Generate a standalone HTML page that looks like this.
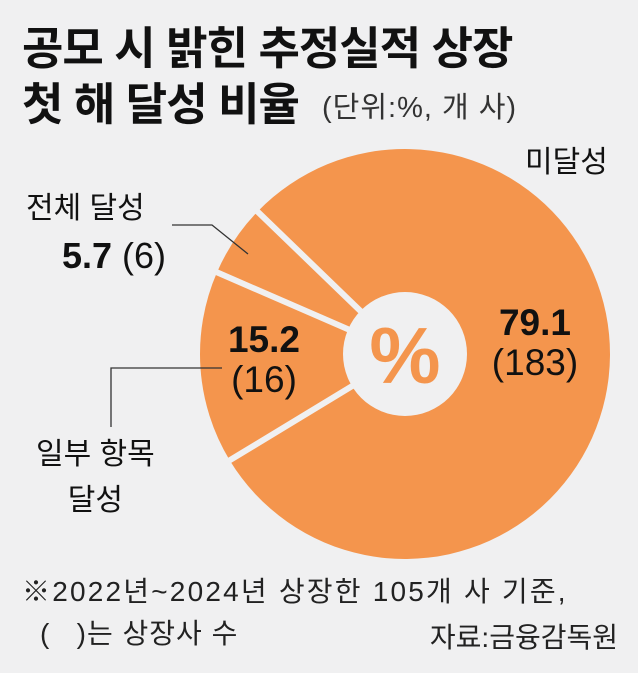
<!DOCTYPE html>
<html><head><meta charset="utf-8"><style>
body{margin:0;background:#f0f0f1;}
#c{position:relative;width:638px;height:673px;background:#f0f0f1;font-family:"Liberation Sans","Noto Sans CJK KR",sans-serif;color:#111;overflow:hidden}
.t{position:absolute;white-space:nowrap}
</style></head><body>
<div id="c">
<div class="t" style="left:22px;top:12px;font-size:45px;font-weight:bold;letter-spacing:-1px">공모 시 밝힌 추정실적 상장</div>
<div class="t" style="left:22px;top:68px;font-size:45px;font-weight:bold;letter-spacing:-1px">첫 해 달성 비율</div>
<div class="t" style="left:322px;top:84px;font-size:29px;color:#333;letter-spacing:1px">(단위:%, 개 사)</div>
<svg id="pie" width="638" height="673" style="position:absolute;left:0;top:0"></svg>
<div class="t" style="left:525px;top:137px;font-size:30px">미달성</div>
<div class="t" style="left:490px;top:303px;font-size:37px;font-weight:bold;text-align:center;width:90px;line-height:40px">79.1<br><span style="font-weight:normal">(183)</span></div>
<div class="t" style="left:26px;top:183px;font-size:30px">전체 달성</div>
<div class="t" style="left:62px;top:235px;font-size:36px"><b>5.7</b> (6)</div>
<div class="t" style="left:224px;top:320px;font-size:37px;font-weight:bold;text-align:center;width:80px;line-height:40px">15.2<br><span style="font-weight:normal">(16)</span></div>
<div class="t" style="left:36px;top:432px;font-size:30px;text-align:center;line-height:46px">일부 항목<br>달성</div>
<div class="t" style="left:22px;top:570px;font-size:28px;color:#222;letter-spacing:2.2px">※2022년~2024년 상장한 105개 사 기준,</div>
<div class="t" style="left:40px;top:612px;font-size:28px;color:#222;letter-spacing:1px">(&nbsp;&nbsp;&nbsp;)는 상장사 수</div>
<div class="t" style="right:20px;top:616px;font-size:28px;color:#222;letter-spacing:0px">자료:금융감독원</div>
</div>
<script>
const categories=["미달성","일부 항목 달성","전체 달성"];
const values=[79.1,15.2,5.7];
const startDeg=314;
const cx=405,cy=354,R=205,r0=62;
const svg=document.getElementById('pie');
const NS='http://www.w3.org/2000/svg';
function pt(deg,rad){const a=deg*Math.PI/180;return [cx+rad*Math.sin(a),cy-rad*Math.cos(a)];}
const total=values.reduce((a,b)=>a+b,0);
let ang=startDeg;
const bounds=[];
values.forEach((v,i)=>{
  const sweep=v/total*360;
  const p1=pt(ang,R),p2=pt(ang+sweep,R);
  const path=document.createElementNS(NS,'path');
  path.setAttribute('d',`M${cx},${cy} L${p1[0]},${p1[1]} A${R},${R} 0 ${sweep>180?1:0} 1 ${p2[0]},${p2[1]} Z`);
  path.setAttribute('fill','#f4954d');
  
  
  svg.appendChild(path);
  bounds.push(ang);
  ang+=sweep;
});
bounds.forEach(a=>{
  const p=pt(a,R+2);
  const l=document.createElementNS(NS,'line');
  l.setAttribute('x1',cx);l.setAttribute('y1',cy);l.setAttribute('x2',p[0]);l.setAttribute('y2',p[1]);
  l.setAttribute('stroke','#f0f0f1');l.setAttribute('stroke-width','6');
  
  
  svg.appendChild(l);
});
const hole=document.createElementNS(NS,'circle');
hole.setAttribute('cx',cx);hole.setAttribute('cy',cy);hole.setAttribute('r',r0);hole.setAttribute('fill','#f0f0f1');


svg.appendChild(hole);
const pc=document.createElementNS(NS,'text');
pc.setAttribute('x',cx);pc.setAttribute('y',cy+29);pc.setAttribute('text-anchor','middle');
pc.setAttribute('font-size','80');pc.setAttribute('font-weight','bold');pc.setAttribute('fill','#f4954d');
pc.setAttribute('font-family','Liberation Sans, sans-serif');
pc.textContent='%';


svg.appendChild(pc);
[[ "172,225 212,225 248,254","leader-full"],["222,368 111,368 111,427","leader-partial"]].forEach(([p,n])=>{
  const pl=document.createElementNS(NS,'polyline');
  pl.setAttribute('points',p);pl.setAttribute('fill','none');pl.setAttribute('stroke','#333');pl.setAttribute('stroke-width','1.3');
  
  
  svg.appendChild(pl);
});
</script>
</body></html>
